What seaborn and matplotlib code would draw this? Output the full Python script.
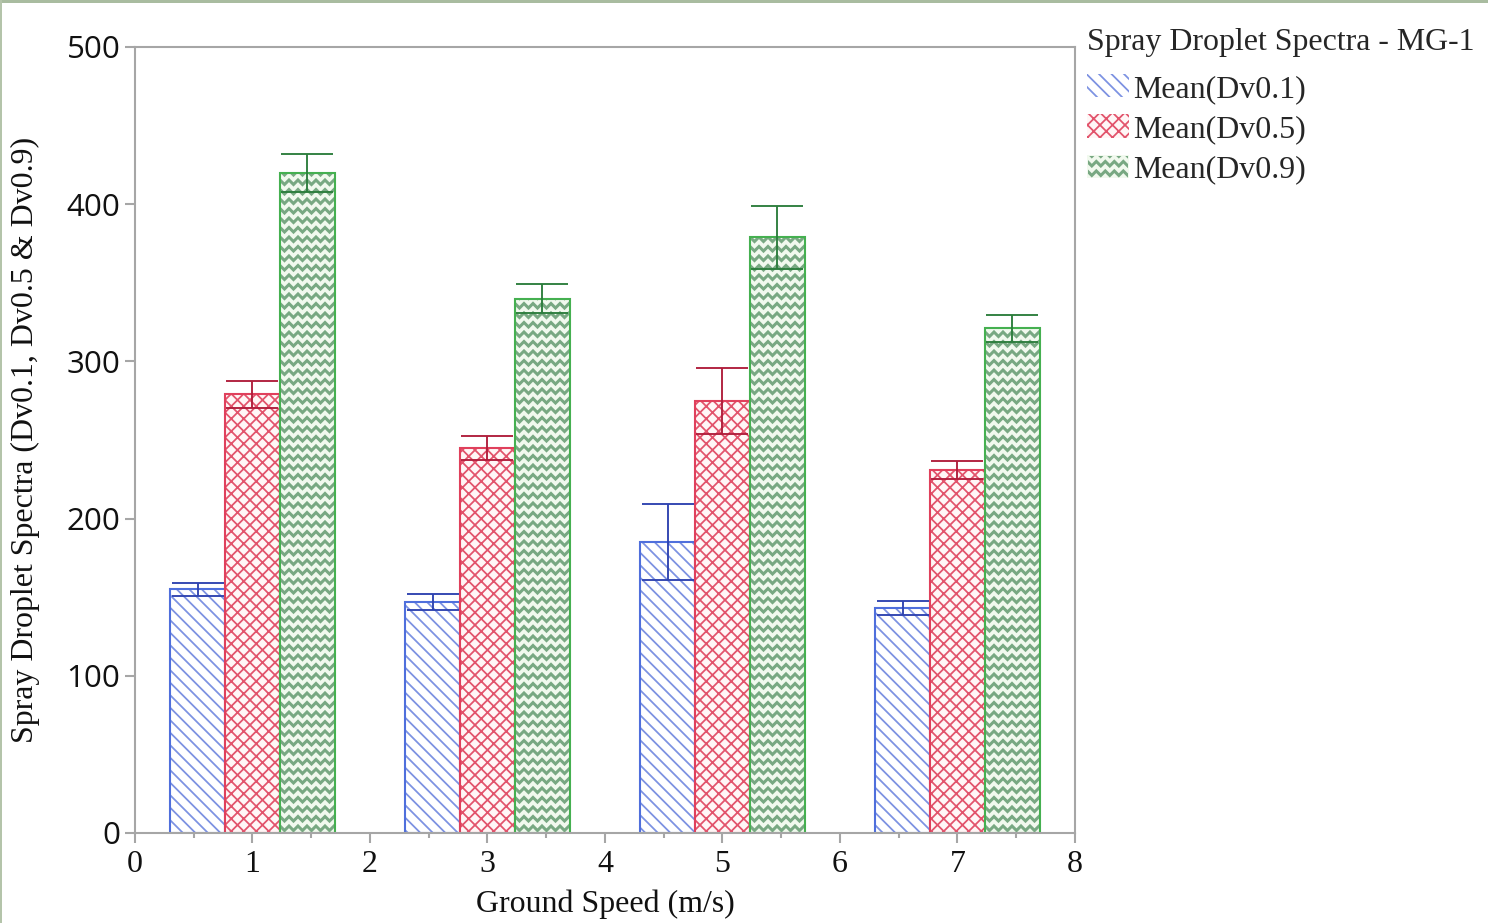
import numpy as np
import pandas as pd
import seaborn as sns
import matplotlib
matplotlib.use("Agg")
import matplotlib.pyplot as plt
from matplotlib.patches import Patch, Rectangle
from matplotlib.lines import Line2D
from matplotlib.ticker import MultipleLocator
from matplotlib.transforms import IdentityTransform, Bbox

# ---------------- data ----------------
speeds = [1, 3, 5, 7]
series_names = ["Mean(Dv0.1)", "Mean(Dv0.5)", "Mean(Dv0.9)"]
dv01 = [155, 147, 185, 143]
dv05 = [279, 245, 275, 231]
dv09 = [420, 340, 379, 321]
dv01_err = [4, 5, 24, 4.5]
dv05_err = [8.5, 7.5, 21, 5.5]
dv09_err = [12, 9, 20, 8.5]
yticks = [0, 100, 200, 300, 400, 500]
xticks = [0, 1, 2, 3, 4, 5, 6, 7, 8]

values = [dv01, dv05, dv09]
errors = [dv01_err, dv05_err, dv09_err]

df = pd.DataFrame({
    "speed": speeds * 3,
    "value": dv01 + dv05 + dv09,
    "series": sum([[n] * len(speeds) for n in series_names], []),
})

# ---------------- styles ----------------
edge_cols = ["#4f6fdc", "#e0405c", "#45b050"]
hatch_cols = ["#7d92e2", "#e2546c", "#78a882"]
face_cols = ["#ffffff", "#fff6f6", "#f1f9ee"]
err_cols = ["#2e43b0", "#b01d3b", "#2c7d3c"]
hatches = ["\\" * 4, "xxxx", ""]

DPI = 150
W, H = 1489, 923
FS = 15.3
sns.set_style("white")
plt.rcParams["hatch.linewidth"] = 0.85
serif = ["Liberation Serif", "DejaVu Serif"]
sans = ["Open Sans", "DejaVu Sans"]

fig = plt.figure(figsize=(W / DPI, H / DPI), dpi=DPI)
ax = fig.add_axes([135 / W, 1 - 833 / H, (1075 - 135) / W, (833 - 47) / H])

sns.barplot(data=df, x="speed", y="value", hue="series", native_scale=True,
            width=0.702, errorbar=None, palette=edge_cols, legend=False,
            saturation=1, ax=ax)

gray = "#a6a6a6"
bar_conts = list(ax.containers)
for i, cont in enumerate(bar_conts):
    for p in cont:
        p.set_facecolor(face_cols[i])
        p.set_edgecolor(edge_cols[i])
        p.set_linewidth(1.0)
        if hatches[i]:
            p.set_hatch(hatches[i])
            p._hatch_color = matplotlib.colors.to_rgba(hatch_cols[i])
    xs = [p.get_x() + p.get_width() / 2 for p in cont]
    ax.errorbar(xs, values[i], yerr=errors[i], fmt="none", ecolor=err_cols[i],
                elinewidth=0.9, capsize=12.5, capthick=0.9, zorder=5)

ax.set_xlim(0, 8)
ax.set_ylim(0, 500)
ax.set_xticks(xticks)
ax.set_yticks(yticks)
ax.xaxis.set_minor_locator(MultipleLocator(0.5))
ax.set_xticklabels([str(t) for t in xticks], family=serif, fontsize=FS)
ax.set_yticklabels([str(t) for t in yticks], family=sans, fontsize=15)
ax.tick_params(axis="both", which="major", direction="out", length=5, width=1,
               color=gray, bottom=True, left=True, labelcolor="#111111")
ax.tick_params(axis="x", which="major", pad=3)
ax.tick_params(axis="y", which="major", pad=2)
ax.tick_params(axis="x", which="minor", direction="out", length=2.5, width=1,
               color=gray, bottom=True)
for s in ax.spines.values():
    s.set_visible(True)
    s.set_color(gray)
    s.set_linewidth(1.0)

ax.set_xlabel("Ground Speed (m/s)", family=serif, fontsize=FS, labelpad=5, color="#111111")
ax.set_ylabel("Spray Droplet Spectra (Dv0.1, Dv0.5 & Dv0.9)", family=serif,
              fontsize=FS, labelpad=12.5, color="#111111")

# legend
handles = []
for i in range(3):
    h = Patch(facecolor=face_cols[i], edgecolor=hatch_cols[i], linewidth=0,
              hatch=hatches[i] if hatches[i] else None, label=series_names[i])
    handles.append(h)
leg = fig.legend(handles=handles, loc="upper left", bbox_to_anchor=(1065 / W, 1 - 6 / H),
                 frameon=False, prop={"family": serif, "size": FS},
                 title="Spray Droplet Spectra - MG-1",
                 title_fontproperties={"family": serif, "size": FS},
                 handlelength=1.3, handleheight=0.75, handletextpad=0.15,
                 labelspacing=0.33, borderpad=0.2, alignment="left")
leg._legend_box.sep = 8

# frame strips of the screenshot
fig.add_artist(Rectangle((0, 1 - 3 / H), 1, 3 / H, transform=fig.transFigure,
                         facecolor="#a9bca0", edgecolor="none"))
fig.add_artist(Rectangle((0, 0), 2 / W, 1, transform=fig.transFigure,
                         facecolor="#b4c4aa", edgecolor="none"))

# zigzag pattern for the Dv0.9 series (bars + legend swatch)
fig.canvas.draw()
renderer = fig.canvas.get_renderer()


def zigzag(bb, target, z):
    period, amp, rowgap = 9.0, 4.5, 9.5
    y = bb.y0 + rowgap / 2
    while y < bb.y1 + rowgap:
        xs = np.arange(bb.x0 - period, bb.x1 + period, period / 2)
        ys = y + np.where(np.arange(len(xs)) % 2 == 0, amp / 2, -amp / 2)
        ln = Line2D(xs, ys, transform=IdentityTransform(), color=hatch_cols[2],
                    linewidth=1.45, solid_joinstyle="miter", zorder=z)
        target.add_artist(ln)
        ln.set_clip_path(None)
        ln.set_clip_box(Bbox.from_extents(bb.x0 + 1.0, bb.y0, bb.x1 - 1.0, bb.y1 - 1.0))
        y += rowgap


for p in bar_conts[2]:
    zigzag(p.get_window_extent(renderer), ax, 2.5)
lp = leg.get_patches()[2]
zigzag(lp.get_window_extent(renderer), fig, 10)

fig.savefig("out.png", dpi=DPI, facecolor="white")
